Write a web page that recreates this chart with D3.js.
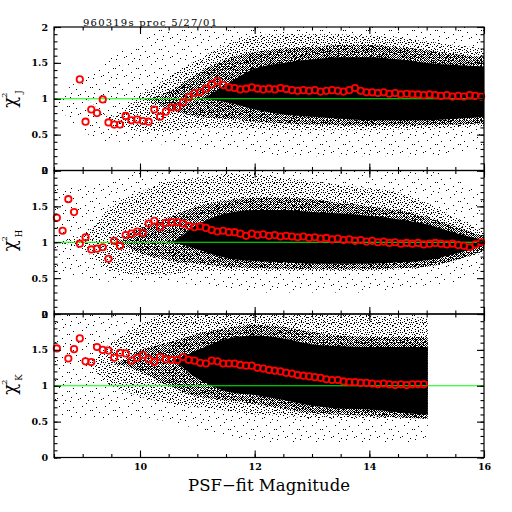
<!DOCTYPE html>
<html>
<head>
<meta charset="utf-8">
<title>chi2 vs PSF-fit magnitude</title>
<script src="https://cdn.jsdelivr.net/npm/d3@7"></script>
<style>
  body { margin: 0; background: #fff; }
  text { font-family: "DejaVu Serif", serif; }
</style>
</head>
<body>
<svg width="512" height="512"></svg>
<script>
// bin centres (0.1 mag bins)
var binMag = [8.55,8.65,8.75,8.85,8.95,9.05,9.15,9.25,9.35,9.45,
              9.55,9.65,9.75,9.85,9.95,10.05,10.15,10.25,10.35,10.45,
              10.55,10.65,10.75,10.85,10.95,11.05,11.15,11.25,11.35,11.45,
              11.55,11.65,11.75,11.85,11.95,12.05,12.15,12.25,12.35,12.45,
              12.55,12.65,12.75,12.85,12.95,13.05,13.15,13.25,13.35,13.45,
              13.55,13.65,13.75,13.85,13.95,14.05,14.15,14.25,14.35,14.45,
              14.55,14.65,14.75,14.85,14.95,15.05,15.15,15.25,15.35,15.45,
              15.55,15.65,15.75,15.85,15.95];

// binned median chi^2 (red circles)
var chiJ = [null,null,null,null,1.27,0.68,0.85,0.80,0.99,0.67,
            0.64,0.64,0.76,0.70,0.71,0.69,0.68,0.85,0.75,0.82,
            0.88,0.88,0.95,1.02,1.08,1.09,1.14,1.20,1.25,1.19,
            1.16,1.15,1.13,1.14,1.16,1.14,1.13,1.14,1.13,1.15,
            1.135,1.12,1.11,1.12,1.11,1.12,1.10,1.11,1.12,1.11,
            1.10,1.12,1.15,1.11,1.09,1.09,1.08,1.09,1.07,1.08,
            1.06,1.07,1.06,1.06,1.05,1.06,1.05,1.04,1.05,1.03,
            1.04,1.03,1.05,1.04,1.03];
var chiH = [1.34,1.16,1.60,1.42,0.98,1.07,0.90,0.91,0.93,0.77,
            1.02,0.95,1.10,1.12,1.15,1.13,1.26,1.30,1.21,1.27,
            1.28,1.28,1.26,1.23,1.21,1.22,1.20,1.17,1.15,1.16,
            1.14,1.14,1.12,1.09,1.12,1.10,1.11,1.09,1.10,1.08,
            1.09,1.08,1.07,1.08,1.06,1.07,1.05,1.06,1.04,1.05,
            1.03,1.04,1.02,1.03,1.01,1.02,1.00,1.01,0.99,1.00,
            0.98,0.99,0.98,0.99,0.97,0.98,0.99,0.98,0.97,0.98,
            0.96,0.95,0.93,0.97,1.00];
var chiK = [1.52,null,1.38,1.51,1.66,1.34,1.33,1.54,1.50,1.49,
            1.39,1.46,1.45,1.35,1.39,1.43,1.37,1.33,1.40,1.37,
            1.36,1.36,1.40,1.36,1.35,1.32,1.31,1.35,1.34,1.31,
            1.31,1.31,1.29,1.28,1.28,1.25,1.24,1.22,1.21,1.20,
            1.18,1.17,1.15,1.14,1.13,1.12,1.11,1.09,1.08,1.08,
            1.06,1.05,1.05,1.04,1.04,1.03,1.02,1.03,1.02,1.01,
            1.02,1.01,1.02,1.02,1.02,null,null,null,null,null,
            null,null,null,null,null];

// extent of the per-star cloud at four density levels
var envMag = [8.5,9,9.5,10,10.5,11,11.5,12,12.5,13,13.5,14,14.5,15,15.5,16];

var haloLoJ  = [0.95,0.55,0.4,0.4,0.35,0.3,0.3,0.25,0.2,0.2,0.2,0.2,0.2,0.2,0.25,0.3];
var haloHiJ  = [1.0,1.3,1.6,1.8,2.0,2.0,2.0,2.0,2.0,2.0,2.0,2.0,2.0,2.0,2.0,2.0];
var bodyLoJ  = [1.0,1.0,0.7,0.55,0.55,0.6,0.6,0.58,0.57,0.56,0.56,0.56,0.57,0.58,0.6,0.62];
var bodyHiJ  = [1.0,1.0,0.75,1.05,1.3,1.55,1.75,1.88,1.9,1.9,1.9,1.88,1.85,1.8,1.75,1.7];
var denseLoJ = [1,1,1,1,0.85,0.75,0.72,0.68,0.66,0.64,0.63,0.62,0.62,0.63,0.64,0.66];
var denseHiJ = [1,1,1,1,1.1,1.35,1.55,1.65,1.7,1.72,1.75,1.75,1.72,1.68,1.62,1.58];
var coreLoJ  = [1,1,1,1,1,1,0.95,0.85,0.78,0.75,0.72,0.7,0.7,0.7,0.72,0.75];
var coreHiJ  = [1,1,1,1,1,1,1.2,1.42,1.5,1.55,1.58,1.58,1.55,1.5,1.47,1.45];

var haloLoH  = [0.55,0.5,0.45,0.45,0.45,0.4,0.35,0.3,0.3,0.3,0.3,0.3,0.35,0.4,0.45,0.55];
var haloHiH  = [1.75,1.8,1.85,2.0,2.0,2.0,2.0,2.0,2.0,2.0,2.0,2.0,2.0,2.0,1.9,1.6];
var bodyLoH  = [1.0,0.9,0.6,0.55,0.55,0.6,0.6,0.6,0.6,0.6,0.6,0.6,0.62,0.65,0.75,0.85];
var bodyHiH  = [1.0,1.1,1.5,1.7,1.85,1.9,1.95,1.95,1.9,1.85,1.8,1.75,1.7,1.55,1.35,1.15];
var denseLoH = [1,1,1,0.85,0.75,0.7,0.66,0.64,0.63,0.62,0.62,0.62,0.64,0.66,0.75,0.88];
var denseHiH = [1,1,1,1.2,1.35,1.5,1.58,1.62,1.62,1.6,1.55,1.5,1.45,1.35,1.22,1.08];
var coreLoH  = [1,1,1,1,1,0.9,0.78,0.74,0.72,0.7,0.7,0.7,0.72,0.75,0.84,0.95];
var coreHiH  = [1,1,1,1,1,1.25,1.4,1.45,1.45,1.42,1.4,1.37,1.32,1.25,1.13,1.03];

var haloLoK  = [0.6,0.55,0.55,0.55,0.5,0.4,0.3,0.25,0.2,0.2,0.2,0.2,0.2,0.2,0.2,0.2];
var haloHiK  = [2.0,2.0,2.0,2.0,2.0,2.0,2.0,2.0,2.0,2.0,2.0,2.0,2.0,2.0,2.0,2.0];
var bodyLoK  = [1.3,1.3,1.0,0.85,0.75,0.7,0.65,0.6,0.58,0.55,0.55,0.55,0.55,0.55,0.55,0.55];
var bodyHiK  = [1.3,1.3,1.6,1.85,2.0,2.0,2.0,2.0,2.0,2.0,2.0,1.98,1.95,1.95,1.95,1.95];
var denseLoK = [1.3,1.3,1.3,1.2,1.0,0.85,0.8,0.75,0.68,0.62,0.6,0.58,0.56,0.54,0.54,0.54];
var denseHiK = [1.3,1.3,1.3,1.5,1.6,1.72,1.8,1.85,1.82,1.75,1.7,1.68,1.68,1.68,1.68,1.68];
var coreLoK  = [1.35,1.35,1.35,1.35,1.35,1.1,0.92,0.87,0.8,0.72,0.68,0.67,0.63,0.6,0.6,0.6];
var coreHiK  = [1.35,1.35,1.35,1.35,1.35,1.5,1.65,1.7,1.66,1.58,1.55,1.54,1.54,1.54,1.54,1.54];

var faintLimit = [16, 16, 15.02];
var bands = ["J", "H", "K"];
var refLevel = 1;

var xMajor = [10, 12, 14, 16];
var yMajor = [0, 0.5, 1, 1.5, 2];
var xMinor = d3.range(8.5, 16.01, 0.5);
var yMinor = d3.range(0, 2.001, 0.1);

var title = "960319s proc 5/27/01";
var xTitle = "PSF\u2212fit Magnitude";

var svg = d3.select("svg");
var left = 54, right = 484, top0 = 27, panelH = 143.5;
var x = d3.scaleLinear().domain([8.5, 16]).range([left, right]);

// stipple textures standing in for the thinner parts of the cloud
var defs = svg.append("defs");
function stipple(id, w, h, dots) {
  var p = defs.append("pattern").attr("id", id)
    .attr("patternUnits", "userSpaceOnUse").attr("width", w).attr("height", h);
  dots.forEach(function(d) {
    p.append("rect").attr("x", d[0]).attr("y", d[1])
      .attr("width", 1).attr("height", 1).attr("fill", "#000")
      .attr("shape-rendering", "crispEdges");
  });
}
stipple("halo", 23, 19, [[1,2],[9,0],[17,4],[4,8],[13,7],[21,11],[7,13],[16,15],[2,17],[11,18],[19,1],[0,11]]);
stipple("body", 11, 10, [[0,0],[4,0],[8,1],[2,2],[6,2],[10,3],[1,4],[5,4],[8,5],[3,6],
                         [7,6],[0,7],[10,7],[5,8],[2,9],[8,9],[9,3],[4,2]]);
stipple("dense", 7, 6, [[0,0],[2,0],[4,0],[5,0],[1,1],[3,1],[6,1],[0,2],[2,2],[5,2],
                        [1,3],[3,3],[4,3],[6,3],[0,4],[2,4],[5,4],[1,5],[4,5]]);

var panels = [
  {chi: chiJ, halo: [haloLoJ, haloHiJ], body: [bodyLoJ, bodyHiJ], dense: [denseLoJ, denseHiJ], core: [coreLoJ, coreHiJ]},
  {chi: chiH, halo: [haloLoH, haloHiH], body: [bodyLoH, bodyHiH], dense: [denseLoH, denseHiH], core: [coreLoH, coreHiH]},
  {chi: chiK, halo: [haloLoK, haloHiK], body: [bodyLoK, bodyHiK], dense: [denseLoK, denseHiK], core: [coreLoK, coreHiK]}
];

function envelope(pair) {
  return envMag.map(function(m, i) { return {m: m, lo: pair[0][i], hi: pair[1][i]}; });
}

panels.forEach(function(p, i) {
  var top = top0 + i * panelH, bottom = top + panelH;
  var y = d3.scaleLinear().domain([0, 2]).range([bottom, top]);
  var g = svg.append("g");

  defs.append("clipPath").attr("id", "clip" + i)
    .append("rect").attr("x", left).attr("y", top)
    .attr("width", x(faintLimit[i]) - left).attr("height", panelH);

  var area = d3.area().curve(d3.curveMonotoneX)
    .x(function(d) { return x(d.m); })
    .y0(function(d) { return y(d.lo); })
    .y1(function(d) { return y(d.hi); });

  var cloud = g.append("g").attr("clip-path", "url(#clip" + i + ")");
  cloud.append("path").attr("d", area(envelope(p.halo))).attr("fill", "url(#halo)");
  cloud.append("path").attr("d", area(envelope(p.body))).attr("fill", "url(#body)");
  cloud.append("path").attr("d", area(envelope(p.dense))).attr("fill", "url(#dense)");
  cloud.append("path").attr("d", area(envelope(p.core))).attr("fill", "#000");

  g.append("line").attr("x1", left).attr("x2", right)
    .attr("y1", y(refLevel)).attr("y2", y(refLevel))
    .attr("stroke", "#00ff00").attr("stroke-width", 1);

  var pts = binMag.map(function(m, k) { return {m: m, v: p.chi[k]}; })
    .filter(function(d) { return d.v != null; });
  g.selectAll("circle").data(pts).enter().append("circle")
    .attr("cx", function(d) { return x(d.m); })
    .attr("cy", function(d) { return y(d.v); })
    .attr("r", 3.2).attr("fill", "none")
    .attr("stroke", "#ff0000").attr("stroke-width", 1.8);

  // frame and inward ticks
  g.append("rect").attr("x", left).attr("y", top)
    .attr("width", right - left).attr("height", panelH)
    .attr("fill", "none").attr("stroke", "#000").attr("stroke-width", 1.2);

  function ticks(axis, tr, vals, size, fmt) {
    var a = g.append("g").attr("transform", tr)
      .call(axis.tickValues(vals).tickSize(size).tickPadding(6).tickFormat(fmt || ""));
    a.select(".domain").remove();
    a.selectAll("line").attr("stroke", "#000").attr("stroke-width", 1.1);
    return a;
  }
  ticks(d3.axisBottom(x), "translate(0," + bottom + ")", xMinor, -3.5);
  ticks(d3.axisTop(x), "translate(0," + top + ")", xMinor, -3.5);
  ticks(d3.axisTop(x), "translate(0," + top + ")", xMajor, -7);
  var xb = ticks(d3.axisBottom(x), "translate(0," + bottom + ")", xMajor, -7,
    i === 2 ? d3.format("d") : function() { return ""; });
  ticks(d3.axisLeft(y), "translate(" + left + ",0)", yMinor, -3.5);
  ticks(d3.axisRight(y), "translate(" + right + ",0)", yMinor, -3.5);
  ticks(d3.axisRight(y), "translate(" + right + ",0)", yMajor, -7);
  var yl = ticks(d3.axisLeft(y), "translate(" + left + ",0)", yMajor, -7, d3.format("~g"));
  [xb, yl].forEach(function(a) {
    a.attr("font-family", "DejaVu Serif").attr("font-size", 9.5).attr("font-weight", "bold");
    a.selectAll("text").attr("fill", "#000");
  });

  // rotated chi^2 label
  var lab = g.append("g")
    .attr("transform", "translate(16," + (top + panelH / 2) + ") rotate(-90)");
  lab.append("text").attr("x", -9).attr("y", 0).attr("font-size", 18).text("\u03c7");
  lab.append("text").attr("x", 1).attr("y", -9).attr("font-size", 8).text("2");
  lab.append("text").attr("x", 5).attr("y", 6).attr("font-size", 8.5).text(bands[i]);
});

svg.append("text").attr("x", 83).attr("y", 26)
  .attr("font-size", 10).attr("textLength", 134).text(title);

svg.append("text").attr("x", 188).attr("y", 491)
  .attr("font-size", 16.5).attr("textLength", 162).text(xTitle);
</script>
</body>
</html>
